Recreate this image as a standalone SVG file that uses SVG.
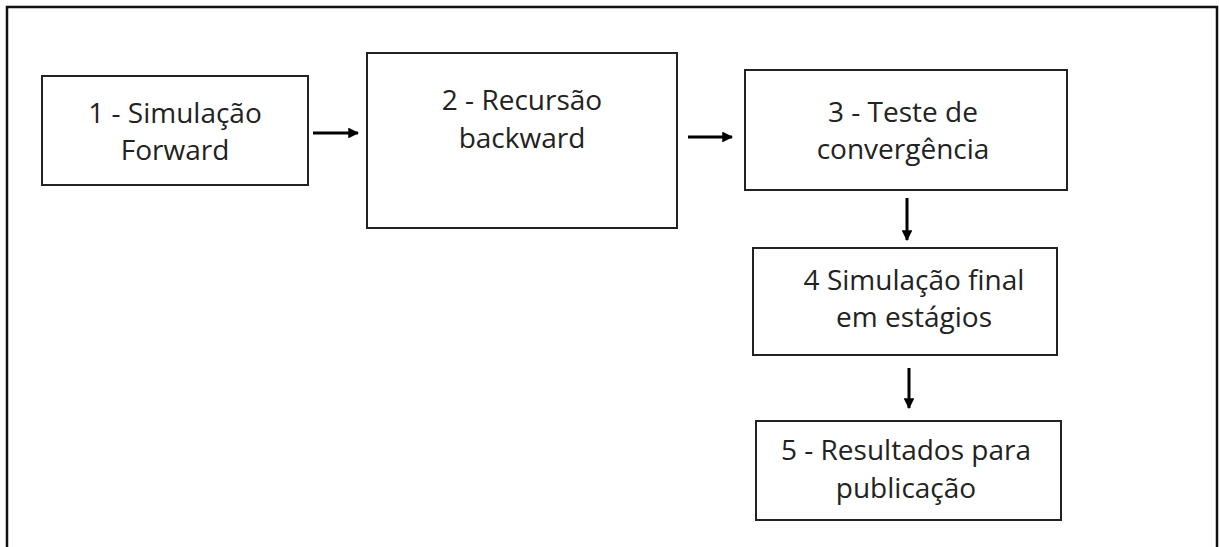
<svg xmlns="http://www.w3.org/2000/svg" width="1220" height="547" viewBox="0 0 1220 547">
<style>
.frame{fill:none;stroke:#111;stroke-width:2.5}
.box{fill:#fff;stroke:#222;stroke-width:2}
.t{font-family:"Open Sans","Liberation Sans",sans-serif;font-size:28px;fill:#222;text-anchor:middle}
.c{stroke:#000;stroke-width:3;fill:none}
</style>
<defs>
<marker id="ah" viewBox="0 0 10 10" refX="9" refY="5" markerWidth="3.6" markerHeight="3.6" orient="auto" markerUnits="strokeWidth">
<path d="M0,0 L10,5 L0,10 z" fill="#000"/>
</marker>
</defs>
<rect width="1220" height="547" fill="#fff"/>
<path class="frame" d="M7,560 V7 H1217 V560"/>
<g id="n1"><rect class="box" x="42" y="76" width="266" height="109"/>
<text class="t" x="175" y="123">1 - Simulação</text><text class="t" x="175" y="160">Forward</text></g>
<g id="n2"><rect class="box" x="367" y="53" width="310" height="175"/>
<text class="t" x="522" y="110">2 - Recursão</text><text class="t" x="522" y="148">backward</text></g>
<g id="n3"><rect class="box" x="745" y="70" width="322" height="120"/>
<text class="t" x="903" y="122">3 - Teste de</text><text class="t" x="903" y="159">convergência</text></g>
<g id="n4"><rect class="box" x="753" y="248" width="304" height="107"/>
<text class="t" x="914" y="290">4 Simulação final</text><text class="t" x="914" y="327">em estágios</text></g>
<g id="n5"><rect class="box" x="756" y="421" width="305" height="99"/>
<text class="t" x="906" y="460">5 - Resultados para</text><text class="t" x="906" y="498">publicação</text></g>
<g id="connectors">
<line class="c" x1="313" y1="133" x2="358" y2="133" marker-end="url(#ah)"/>
<line class="c" x1="688" y1="137" x2="732" y2="137" marker-end="url(#ah)"/>
<line class="c" x1="907" y1="198" x2="907" y2="240" marker-end="url(#ah)"/>
<line class="c" x1="909" y1="368" x2="909" y2="408" marker-end="url(#ah)"/>
</g>
</svg>
